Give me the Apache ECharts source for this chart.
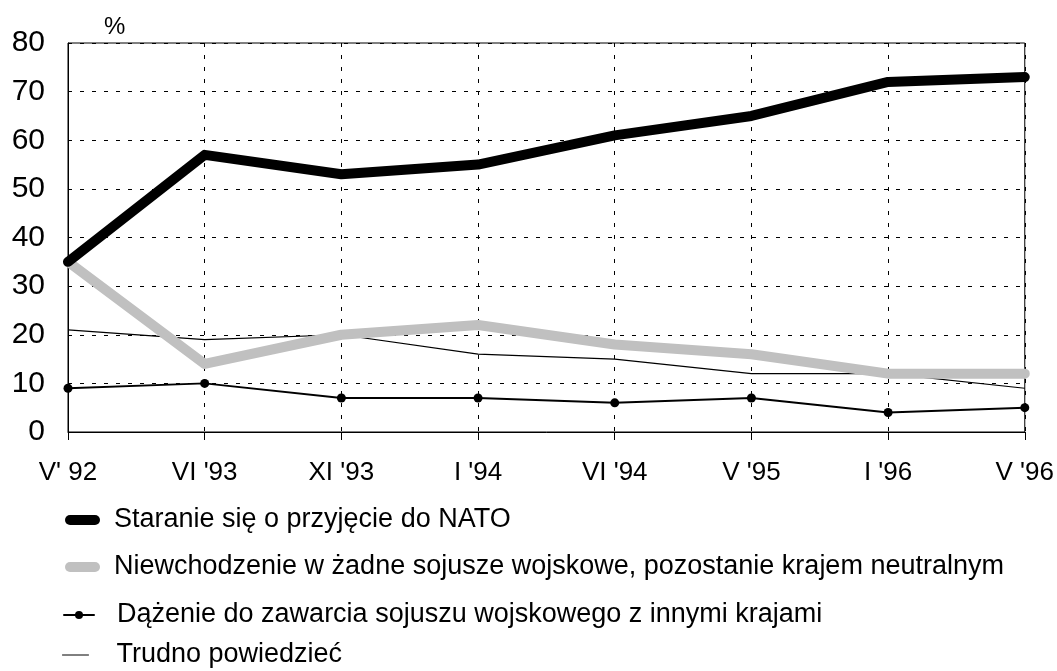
<!DOCTYPE html>
<html>
<head>
<meta charset="utf-8">
<script src="https://cdn.jsdelivr.net/npm/echarts@6/dist/echarts.min.js"></script>
<style>
  html, body { margin: 0; padding: 0; background: #fff; }
  #chart { width: 1057px; height: 671px; }
</style>
</head>
<body>
<div id="chart"></div>
<script>
const categories = ["V' 92", "VI '93", "XI '93", "I '94", "VI '94", "V '95", "I '96", "V '96"]
const nato = [35, 57, 53, 55, 61, 65, 72, 73]
const neutral = [35, 14, 20, 22, 18, 16, 12, 12]
const otherAlliance = [9, 10, 7, 7, 6, 7, 4, 5]
const hardToSay = [21, 19, 20, 16, 15, 12, 12, 9]

const names = [
  'Staranie się o przyjęcie do NATO',
  'Niewchodzenie w żadne sojusze wojskowe, pozostanie krajem neutralnym',
  'Dążenie do zawarcia sojuszu wojskowego z innymi krajami',
  'Trudno powiedzieć'
]

const font = 'Liberation Sans, Arial, sans-serif'
const dash = [4, 8]

// one legend per row so every row can sit where it does in the picture
function legendRow(name, top, left, itemWidth, width, color, pad, showDot) {
  return {
    data: [name],
    left: left,
    top: top,
    padding: 0,
    itemWidth: itemWidth,
    itemHeight: 10,
    selectedMode: false,
    lineStyle: { width: width, color: color, cap: 'round' },
    itemStyle: showDot ? { color: '#000' } : { opacity: 0 },
    textStyle: {
      fontFamily: font,
      fontSize: 27,
      color: '#000',
      lineHeight: 30,
      padding: [0, 0, 0, pad]
    }
  }
}

const chart = echarts.init(document.getElementById('chart'), null, { renderer: 'canvas' })

const option = {
  backgroundColor: '#fff',
  animation: false,
  title: {
    text: '%',
    left: 99,
    top: 10,
    textStyle: { fontFamily: font, fontSize: 24, fontWeight: 'normal', color: '#000' }
  },
  grid: {
    left: 68,
    right: 32,
    top: 43,
    bottom: 239,
    show: true,
    borderColor: '#000',
    borderWidth: 1
  },
  legend: [
    legendRow(names[0], 505, 65, 25, 10, '#000', 14, false),
    legendRow(names[1], 552, 65, 25, 10, '#c0c0c0', 14, false),
    legendRow(names[2], 600, 63, 30, 2, '#000', 18, true),
    legendRow(names[3], 640, 62, 26, 1, '#000', 23, false)
  ],
  xAxis: {
    type: 'category',
    data: categories,
    boundaryGap: false,
    axisLine: { lineStyle: { color: '#000', width: 1 } },
    axisTick: { show: true, length: 8, lineStyle: { color: '#000' } },
    axisLabel: { fontFamily: font, fontSize: 26, color: '#000', margin: 28 },
    splitLine: { show: true, lineStyle: { color: '#000', type: dash, width: 1 } }
  },
  yAxis: {
    type: 'value',
    min: 0,
    max: 80,
    interval: 10,
    axisLine: { show: true, lineStyle: { color: '#000', width: 1 } },
    axisTick: { show: false },
    axisLabel: { fontFamily: font, fontSize: 30, color: '#000', margin: 23 },
    splitLine: { show: true, lineStyle: { color: '#000', type: dash, width: 1 } }
  },
  series: [
    {
      name: names[3],
      type: 'line',
      data: hardToSay,
      symbol: 'none',
      lineStyle: { color: '#000', width: 1.2 },
      itemStyle: { color: '#000' },
      z: 2
    },
    {
      name: names[2],
      type: 'line',
      data: otherAlliance,
      symbol: 'circle',
      symbolSize: 9,
      lineStyle: { color: '#000', width: 2 },
      itemStyle: { color: '#000' },
      z: 3
    },
    {
      name: names[1],
      type: 'line',
      data: neutral,
      symbol: 'none',
      lineStyle: { color: '#c0c0c0', width: 10, cap: 'round', join: 'round' },
      itemStyle: { color: '#c0c0c0' },
      z: 4
    },
    {
      name: names[0],
      type: 'line',
      data: nato,
      symbol: 'none',
      lineStyle: { color: '#000', width: 10, cap: 'round', join: 'round' },
      itemStyle: { color: '#000' },
      z: 5
    }
  ]
}

chart.setOption(option)
</script>
</body>
</html>
